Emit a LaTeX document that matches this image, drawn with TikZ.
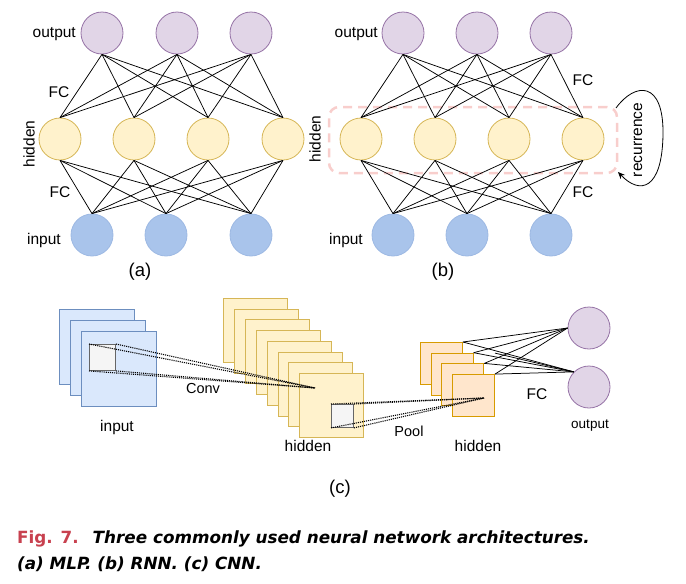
\documentclass[tikz,border=0pt]{standalone}
\usepackage{fontspec}
\setmainfont{Liberation Sans}
\newfontfamily\capfont{DejaVu Sans}
\usetikzlibrary{arrows.meta}
\definecolor{purpF}{HTML}{E1D5E7}
\definecolor{purpD}{HTML}{9673A6}
\definecolor{yelF}{HTML}{FFF2CC}
\definecolor{yelD}{HTML}{D6B656}
\definecolor{bluF}{HTML}{A9C4EB}
\definecolor{bluD}{HTML}{9DB9E3}
\definecolor{lbluF}{HTML}{DAE8FC}
\definecolor{lbluD}{HTML}{6C8EBF}
\definecolor{orgF}{HTML}{FFE6CC}
\definecolor{orgD}{HTML}{D79B00}
\definecolor{grayF}{HTML}{F5F5F5}
\definecolor{grayD}{HTML}{666666}
\definecolor{pinkD}{HTML}{F8CECC}
\definecolor{figred}{HTML}{C8414F}
\tikzset{
  neuron/.style={circle,minimum size=42pt,inner sep=0pt,line width=0.8pt},
  outn/.style={neuron,fill=purpF,draw=purpD},
  hidn/.style={neuron,fill=yelF,draw=yelD},
  inn/.style={neuron,fill=bluF,draw=bluD},
  conn/.style={draw=black,line width=0.75pt},
  lbl/.style={font=\fontsize{15.5}{18}\selectfont,inner sep=0pt},
  mlbl/.style={font=\fontsize{14.5}{17}\selectfont,inner sep=0pt},
  slbl/.style={font=\fontsize{13.5}{16}\selectfont,inner sep=0pt},
  biglbl/.style={font=\fontsize{18.5}{21}\selectfont,inner sep=0pt},
  sqr/.style={rectangle,inner sep=0pt,line width=0.9pt,anchor=north west},
  insq/.style={sqr,fill=lbluF,draw=lbluD,minimum size=75pt},
  hidsq/.style={sqr,fill=yelF,draw=yelD,minimum size=64pt},
  poolsq/.style={sqr,fill=orgF,draw=orgD,minimum size=42pt},
  graysq/.style={sqr,fill=grayF,draw=grayD},
  dotl/.style={densely dotted,line width=1.1pt},
}
\begin{document}
\begin{tikzpicture}[x=1pt,y=-1pt]
\useasboundingbox (0,0) rectangle (686,584);
% ---------------- (a) MLP
\foreach \i/\x in {1/102,2/177,3/251} \node[outn] (ao\i) at (\x,33) {};
\foreach \i/\x in {1/60,2/134,3/208,4/283} \node[hidn] (ah\i) at (\x,139) {};
\foreach \i/\x in {1/92,2/166,3/251} \node[inn] (ai\i) at (\x,235) {};
\foreach \o in {1,2,3}{\foreach \h in {1,2,3,4}{\draw[conn] (ao\o.south) -- (ah\h.north);}}
\foreach \i in {1,2,3}{\foreach \h in {1,2,3,4}{\draw[conn] (ah\h.south) -- (ai\i.north);}}
\node[lbl,anchor=east] (aout) at (76,34) {output};
\node[lbl] (afc1) at (59,92) {FC};
\node[lbl,rotate=90] (ahid) at (29,144) {hidden};
\node[lbl] (afc2) at (60,192) {FC};
\node[lbl,anchor=east] (ain) at (61,240) {input};
\node[biglbl] (alab) at (140,272) {(a)};
% ---------------- (b) RNN
\node[rectangle,rounded corners=10pt,draw=pinkD,dashed,dash pattern=on 9pt off 6pt,line width=2.5pt,minimum width=288pt,minimum height=66pt] (rbox) at (473,140) {};
\foreach \i/\x in {1/403,2/477,3/551} \node[outn] (bo\i) at (\x,33) {};
\foreach \i/\x in {1/361,2/435,3/509,4/583} \node[hidn] (bh\i) at (\x,139) {};
\foreach \i/\x in {1/393,2/467,3/551} \node[inn] (bi\i) at (\x,235) {};
\foreach \o in {1,2,3}{\foreach \h in {1,2,3,4}{\draw[conn] (bo\o.south) -- (bh\h.north);}}
\foreach \i in {1,2,3}{\foreach \h in {1,2,3,4}{\draw[conn] (bh\h.south) -- (bi\i.north);}}
\node[lbl,anchor=east] (bout) at (378,34) {output};
\node[lbl] (bfc1) at (583,80) {FC};
\node[lbl,rotate=90] (bhid) at (315,139) {hidden};
\node[lbl] (bfc2) at (583,192) {FC};
\node[lbl,anchor=east] (bin) at (363,240) {input};
\node[biglbl] (blab) at (443,272) {(b)};
\coordinate (rs) at (616,108);
\coordinate (re) at (618,172);
\draw[line width=0.8pt,-{Stealth[length=7pt,width=6pt]}] (rs) .. controls (635,82) and (664,80) .. (663,135) .. controls (662,190) and (640,195) .. (re);
\node[lbl,rotate=90] (rec) at (638,140) {recurrence};
% ---------------- (c) CNN
\node[insq] (ci1) at (59,309) {};
\node[insq] (ci2) at (70,320) {};
\node[insq] (ci3) at (81,331) {};
\node[graysq,minimum width=26pt,minimum height=26pt] (cg1) at (89,344) {};
\foreach \k in {0,...,7}{
  \node[hidsq] (ch\k) at ({223+10.9*\k},{298+10.7*\k}) {};
}
\node[graysq,minimum width=22pt,minimum height=23pt] (cg2) at (331,404) {};
\coordinate (cconv) at (315,388);
\draw[dotl] (cg1.north west) -- (cconv);
\draw[dotl] (cg1.north east) -- (cconv);
\draw[dotl] (cg1.south west) -- (cconv);
\draw[dotl] (cg1.south east) -- (cconv);
\foreach \k in {0,...,3}{
  \node[poolsq] (cp\k) at ({420+10.7*\k},{342+10.7*\k}) {};
}
\coordinate (cpool) at (484,398);
\draw[dotl] (cg2.north west) -- (cpool);
\draw[dotl] (cg2.north east) -- (cpool);
\draw[dotl] (cg2.south west) -- (cpool);
\draw[dotl] (cg2.south east) -- (cpool);
\node[outn] (co1) at (589,328) {};
\node[outn] (co2) at (589,387) {};
\foreach \k in {0,...,3}{
  \draw[conn] (cp\k.north east) -- (co1.west);
  \draw[conn] (cp\k.north east) -- (co2.north west);
}
\draw[conn] ([yshift=21pt]cp3.north east) -- (co2.north west);
\node[mlbl] (cconvl) at (203,389) {Conv};
\node[lbl] (cinl) at (117,427) {input};
\node[lbl] (chidl) at (308,446) {hidden};
\node[mlbl] (cpooll) at (409,431) {Pool};
\node[lbl] (chid2l) at (478,446) {hidden};
\node[lbl] (cfcl) at (537,394) {FC};
\node[slbl] (coutl) at (590,426) {output};
\node[biglbl] (clab) at (340,489) {(c)};
% ---------------- caption
\node[inner sep=0pt,anchor=base west,font=\capfont\bfseries\fontsize{16.8}{20}\selectfont] (cap1) at (17,543) {\textcolor{figred}{Fig. 7.}\hspace{14pt}\textit{Three commonly used neural network architectures.}};
\node[inner sep=0pt,anchor=base west,font=\capfont\bfseries\itshape\fontsize{16.8}{20}\selectfont] (cap2) at (17,569) {(a) MLP. (b) RNN. (c) CNN.};
\end{tikzpicture}
\end{document}
